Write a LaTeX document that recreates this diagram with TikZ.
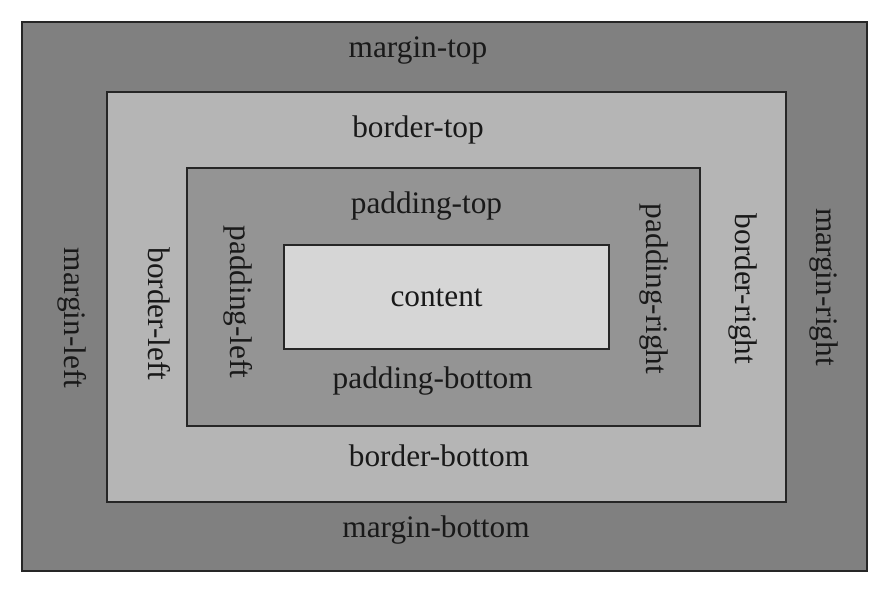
\documentclass[tikz,border=0pt]{standalone}
\usepackage{fontspec}
\setmainfont{Liberation Serif}
\begin{document}
\begin{tikzpicture}[x=1pt,y=-1pt,
  box/.style={draw=black!85,line width=1.3pt},
  lbl/.style={anchor=base,inner sep=0pt,font=\fontsize{31.3}{36}\selectfont,text=black!90},
  vlbl/.style={lbl,rotate=-90}]
\useasboundingbox[fill=white] (0,0) rectangle (884,590);
\draw[box,fill=black!50] (22,22) rectangle (867,571);
\draw[box,fill=black!29] (107,92) rectangle (786,502);
\draw[box,fill=black!42] (187,168) rectangle (700,426);
\draw[box,fill=black!16] (284,245) rectangle (609,349);
\node[lbl] (mt) at (418,57.7) {margin-top};
\node[lbl] (bt) at (418,137) {border-top};
\node[lbl] (pt) at (426.5,213.3) {padding-top};
\node[lbl] (ct) at (436.6,306.7) {content};
\node[lbl] (pb) at (432.7,388) {padding-bottom};
\node[lbl] (bb) at (439,466) {border-bottom};
\node[lbl] (mb) at (436,537) {margin-bottom};
\node[vlbl] (ml) at (64.3,318) {margin-left};
\node[vlbl] (bl) at (148.3,314) {border-left};
\node[vlbl] (pl) at (230.7,302) {padding-left};
\node[vlbl] (pr) at (646.5,289) {padding-right};
\node[vlbl] (br) at (735,289) {border-right};
\node[vlbl] (mr) at (816.7,287) {margin-right};
\end{tikzpicture}
\end{document}
